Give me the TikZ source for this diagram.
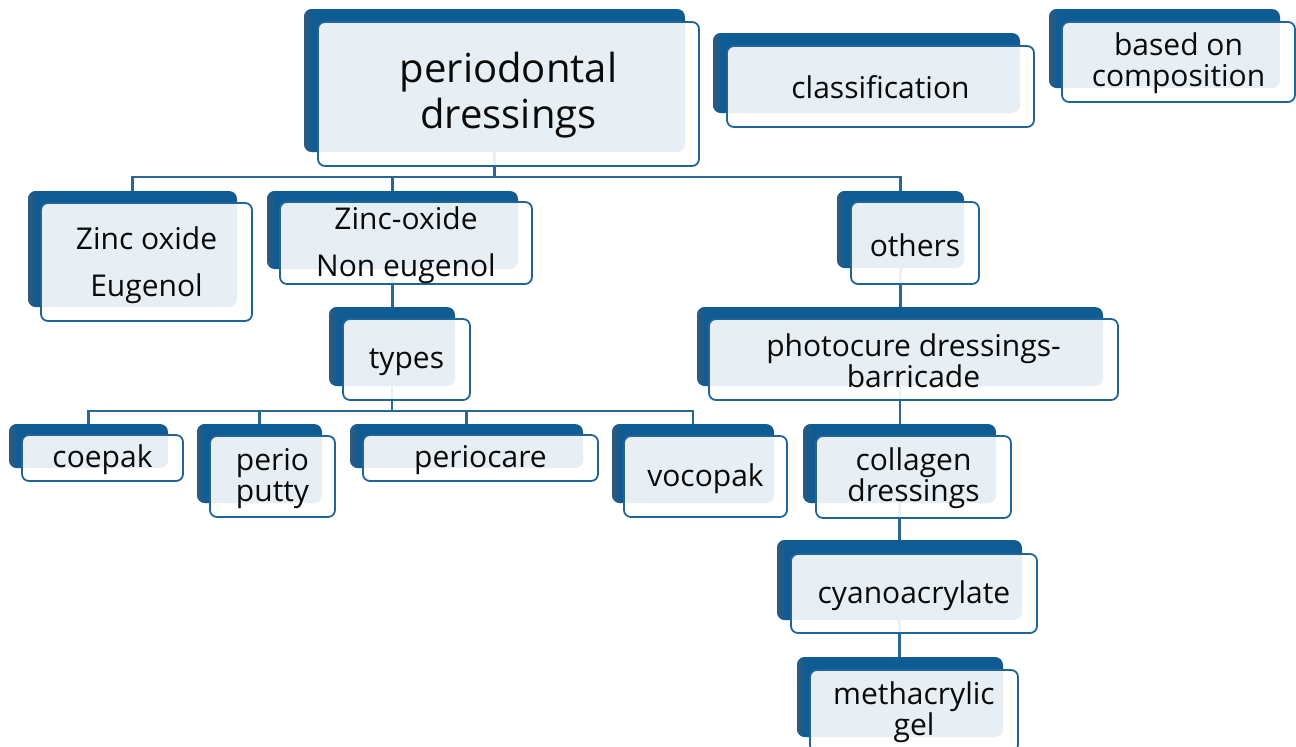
\documentclass[tikz,border=0pt]{standalone}
\usepackage{fontspec}
\setmainfont{Open Sans}
\usetikzlibrary{fit}
\definecolor{backc}{HTML}{0E5C93}
\definecolor{edgec}{HTML}{34597A}
\definecolor{borderc}{HTML}{1F6598}
\definecolor{linec}{HTML}{2A6894}
\definecolor{txtc}{HTML}{0A0A0A}
\pgfdeclarelayer{bg}
\pgfdeclarelayer{paper}
\pgfsetlayers{paper,bg,main}
\tikzset{
  backbox/.style={rectangle, rounded corners=8pt, fill=backc, inner sep=0pt},
  frontbox/.style={rectangle, rounded corners=7pt, draw=borderc, line width=1.8pt, fill=white, fill opacity=0.9, inner sep=0pt},
  lbl/.style={align=center, text=txtc, inner sep=0pt, font=\fontsize{30}{31}\selectfont},
  lblwide/.style={lbl, font=\fontsize{30}{47}\selectfont},
  lbltitle/.style={lbl, font=\fontsize{40}{46}\selectfont},
  conn/.style={draw=linec, line width=2.1pt}
}
\newcommand{\dbox}[9]{%
  \node[backbox, fit={(#2,#3)(#4,#5)}] (#1) {};
  \begin{scope}
    \clip[rounded corners=8pt] (#2,#3) rectangle (#4,#5);
    \shade[left color=edgec, right color=backc] (#2,#3) rectangle ({#2+9},#5);
  \end{scope}
  \node[frontbox, fit={(#6,#7)(#8,#9)}] (#1-f) {};
}
\begin{document}
\begin{tikzpicture}[x=1pt,y=-1pt]
\useasboundingbox (0,0) rectangle (1296,747);
\begin{pgfonlayer}{paper}
\fill[white] (0,0) rectangle (1296,747);
\end{pgfonlayer}
\begin{scope}
\clip (0,0) rectangle (1296,747);
\dbox{main}{304}{9}{685}{152}{318}{22}{699}{166}
\dbox{clas}{713}{33}{1020}{113}{727}{46}{1034}{127}
\dbox{comp}{1049}{9}{1280}{88}{1062}{22}{1295}{102}
\dbox{zoe}{28}{191}{237}{307}{41}{203}{252}{321}
\dbox{zne}{267}{191}{518}{269}{280}{202}{532}{284}
\dbox{others}{837}{191}{964}{268}{851}{202}{979}{284}
\dbox{types}{329}{307}{455}{386}{343}{319}{470}{400}
\dbox{coepak}{9}{424}{168}{468}{22}{435}{183}{481}
\dbox{perio}{197}{424}{322}{503}{210}{436}{335}{517}
\dbox{periocare}{350}{424}{583}{468}{363}{435}{598}{481}
\dbox{vocopak}{612}{424}{774}{503}{624}{436}{787}{517}
\dbox{photo}{697}{307}{1103}{386}{709}{319}{1118}{400}
\dbox{collagen}{803}{424}{996}{503}{816}{436}{1011}{518}
\dbox{cyano}{777}{540}{1022}{620}{791}{554}{1037}{633}
\dbox{meth}{797}{657}{1003}{737}{810}{670}{1018}{752}

\node[lbltitle] (main-t) at ([yshift=-1pt]main-f) {periodontal\\dressings};
\node[lbl] (clas-t) at ([yshift=-1pt]clas-f) {classification};
\node[lbl] (comp-t) at ([yshift=-1pt]comp-f) {based on\\composition};
\node[lblwide] (zoe-t) at ([yshift=-3pt]zoe-f) {Zinc oxide\\Eugenol};
\node[lblwide] (zne-t) at ([yshift=-2pt]zne-f) {Zinc-oxide\\Non eugenol};
\node[lbl] (others-t) at ([yshift=-2pt]others-f) {others};
\node[lbl] (types-t) at ([yshift=-3pt]types-f) {types};
\node[lbl] (coepak-t) at ([yshift=-2pt]coepak-f) {coepak};
\node[lbl] (perio-t) at ([yshift=-2pt]perio-f) {perio\\putty};
\node[lbl] (periocare-t) at ([yshift=-2pt]periocare-f) {periocare};
\node[lbl] (vocopak-t) at ([yshift=-2pt]vocopak-f) {vocopak};
\node[lbl] (photo-t) at ([yshift=-1pt]photo-f) {photocure dressings-\\barricade};
\node[lbl] (collagen-t) at ([yshift=-1pt]collagen-f) {collagen\\dressings};
\node[lbl] (cyano-t) at ([yshift=-2pt]cyano-f) {cyanoacrylate};
\node[lbl] (meth-t) at ([yshift=-1pt]meth-f) {methacrylic\\gel};

\begin{pgfonlayer}{bg}
\draw[conn] (main.south) -- ++(0,25) coordinate (j1);
\draw[conn] (zoe.north) |- (j1) -| (others.north);
\draw[conn] (zne.north) -- (zne.north |- j1);
\draw[conn] (zne.south) -- (zne.south |- types.north);
\draw[conn] (types.south) -- ++(0,25) coordinate (j2);
\draw[conn] (coepak.north) |- (j2) -| (vocopak.north);
\draw[conn] (perio.north) -- (perio.north |- j2);
\draw[conn] (periocare.north) -- (periocare.north |- j2);
\draw[conn] (others.south) -- (others.south |- photo.north);
\draw[conn] (photo.south) -- (photo.south |- collagen.north);
\draw[conn] (collagen.south) -- (collagen.south |- cyano.north);
\draw[conn] (cyano.south) -- (cyano.south |- meth.north);
\end{pgfonlayer}
\end{scope}
\end{tikzpicture}
\end{document}
